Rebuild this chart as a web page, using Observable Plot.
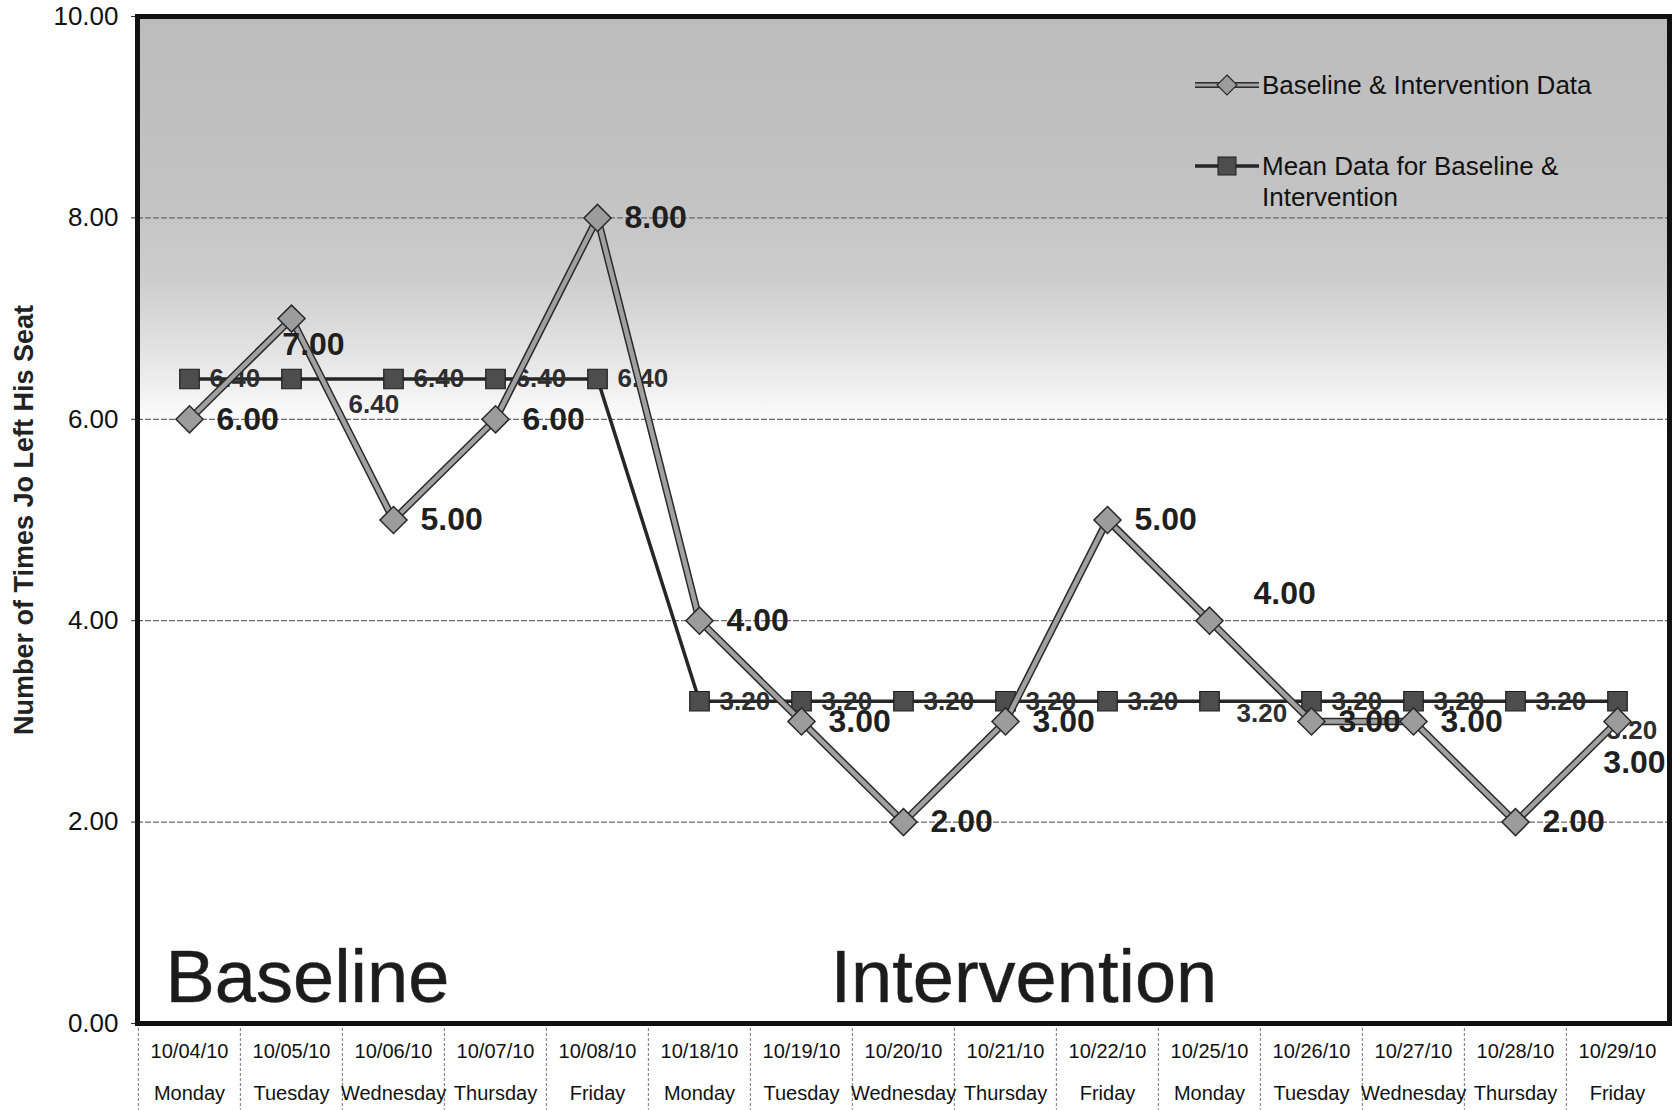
<!DOCTYPE html>
<html>
<head>
<meta charset="utf-8">
<script src="https://cdn.jsdelivr.net/npm/d3@7"></script>
<script src="https://cdn.jsdelivr.net/npm/@observablehq/plot@0.6"></script>
<style>
  html, body { margin: 0; padding: 0; background: #fff; }
  svg { display: block; }
</style>
</head>
<body>
<div id="chart"></div>
<script>
// ---------- data ----------
const dates = ["10/04/10","10/05/10","10/06/10","10/07/10","10/08/10","10/18/10","10/19/10","10/20/10","10/21/10","10/22/10","10/25/10","10/26/10","10/27/10","10/28/10","10/29/10"];
const days = ["Monday","Tuesday","Wednesday","Thursday","Friday","Monday","Tuesday","Wednesday","Thursday","Friday","Monday","Tuesday","Wednesday","Thursday","Friday"];
const values = [6, 7, 5, 6, 8, 4, 3, 2, 3, 5, 4, 3, 3, 2, 3];
const means = [6.4, 6.4, 6.4, 6.4, 6.4, 3.2, 3.2, 3.2, 3.2, 3.2, 3.2, 3.2, 3.2, 3.2, 3.2];
const yTicks = [0, 2, 4, 6, 8, 10];
const gridValues = [2, 4, 6, 8];
const seriesNames = ["Baseline & Intervention Data", "Mean Data for Baseline & Intervention"];
const phaseNames = ["Baseline", "Intervention"];
const phaseStarts = ["10/04/10", "10/19/10"];
const yLabel = "Number of Times Jo Left His Seat";

// ---------- derived table ----------
const rows = dates.map((d, i) => ({date: d, day: days[i], value: values[i], mean: means[i], i}));
const dayOf = new Map(dates.map((d, i) => [d, days[i]]));
const phases = phaseNames.map((p, i) => ({name: p, date: phaseStarts[i]}));

// label nudges (pixels)
const valueLabelNudges = [
  {only: [1], dx: 22, dy: 26, anchor: "middle"},
  {only: [10], dx: 44, dy: -27, anchor: "start"},
  {only: [14], dx: 17, dy: 41, anchor: "middle"}
];
const meanLabelNudges = [
  {only: [1], dx: 57, dy: 26, anchor: "start"},
  {only: [10], dx: 27, dy: 12, anchor: "start"},
  {only: [14], dx: -11, dy: 29, anchor: "start"}
];

const W = 1680, H = 1110;
const mL = 137, mR = 11, mT = 16, mB = 87;
const bw = (W - mL - mR) / dates.length;
const FONT = "'Liberation Sans', Arial, Helvetica, sans-serif";

function labelMarks(key, nudges, defaults, style) {
  const special = new Set(nudges.flatMap(n => n.only));
  const marks = [
    Plot.text(rows, {
      filter: d => !special.has(d.i),
      x: "date", y: key, text: d => d[key].toFixed(2),
      textAnchor: defaults.anchor, dx: defaults.dx, dy: defaults.dy, ...style
    })
  ];
  for (const n of nudges) {
    marks.push(Plot.text(rows, {
      filter: d => n.only.includes(d.i),
      x: "date", y: key, text: d => d[key].toFixed(2),
      textAnchor: n.anchor, dx: n.dx, dy: n.dy, ...style
    }));
  }
  return marks;
}

const svg = Plot.plot({
  width: W,
  height: H,
  marginLeft: mL,
  marginRight: mR,
  marginTop: mT,
  marginBottom: mB,
  style: {fontFamily: FONT, background: "#fff", color: "#111"},
  x: {type: "band", domain: dates, padding: 0},
  y: {domain: [0, 10]},
  marks: [
    Plot.frame({fill: "url(#bgGrad)", stroke: "none"}),
    Plot.ruleY(gridValues, {stroke: "#6a6a6a", strokeWidth: 1.2, strokeDasharray: "6,2"}),
    // category dividers below the plot
    Plot.ruleX(dates, {x: d => d, dx: -bw / 2, y1: 0, y2: -0.86, stroke: "#8a8a8a", strokeWidth: 1.2, strokeDasharray: "3,2"}),
    // phase labels
    Plot.text(phases.slice(0, 1), {x: "date", y: 0.45, text: "name", textAnchor: "start", dx: -24, fontSize: 74, fill: "#1c1c1c", stroke: "#555", strokeWidth: 0.6}),
    Plot.text(phases.slice(1), {x: "date", y: 0.45, text: "name", textAnchor: "start", dx: 29, fontSize: 74, fill: "#1c1c1c", stroke: "#555", strokeWidth: 0.6}),
    // mean series
    Plot.line(rows, {x: "date", y: "mean", stroke: "#262626", strokeWidth: 3.5}),
    Plot.dot(rows, {x: "date", y: "mean", symbol: "square", r: 11, fill: "#4d4d4d", stroke: "#1e1e1e", strokeWidth: 1.2}),
    ...labelMarks("mean", meanLabelNudges, {dx: 20, dy: 0, anchor: "start"},
      {fontSize: 26, fontWeight: "bold", fill: "#2e2e2e"}),
    // baseline & intervention data
    Plot.line(rows, {x: "date", y: "value", stroke: "#2a2a2a", strokeWidth: 7.5}),
    Plot.line(rows, {x: "date", y: "value", stroke: "#a0a0a0", strokeWidth: 4.5}),
    Plot.dot(rows, {x: "date", y: "value", symbol: "square", rotate: 45, r: 10.8, fill: "#9c9c9c", stroke: "#2a2a2a", strokeWidth: 1.5}),
    ...labelMarks("value", valueLabelNudges, {dx: 27, dy: 0, anchor: "start"},
      {fontSize: 32, fontWeight: "bold", fill: "#1f1f1f"}),
    // axes
    Plot.axisY(yTicks, {tickFormat: d => d.toFixed(2), fontSize: 26, tickSize: 6, tickPadding: 13, label: null, stroke: "#333"}),
    Plot.text([yLabel], {frameAnchor: "left", textAnchor: "middle", rotate: -90, dx: -113, fontSize: 27, fontWeight: "bold", fill: "#222"}),
    Plot.axisX({tickFormat: d => d, tickSize: 0, tickPadding: 20, fontSize: 20, label: null}),
    Plot.axisX({tickFormat: d => dayOf.get(d), tickSize: 0, tickPadding: 62, fontSize: 20, label: null}),
    Plot.frame({stroke: "#111", strokeWidth: 5})
  ]
});

// background gradient for the plot area
const defs = d3.select(svg).insert("defs", ":first-child");
const grad = defs.append("linearGradient").attr("id", "bgGrad")
  .attr("x1", 0).attr("y1", 0).attr("x2", 0).attr("y2", 1);
[[0, "#bcbcbc"], [0.17, "#c2c2c2"], [0.26, "#cdcdcd"], [0.33, "#e2e2e2"], [0.38, "#f4f4f4"], [0.41, "#ffffff"], [1, "#ffffff"]]
  .forEach(([o, c]) => grad.append("stop").attr("offset", o).attr("stop-color", c));

// legend (inside the plot area, top right)
const lg = d3.select(svg).append("g").attr("font-family", FONT).attr("text-anchor", "start");
function legendSample(y, kind) {
  if (kind === "diamond") {
    lg.append("line").attr("x1", 1195).attr("x2", 1259).attr("y1", y).attr("y2", y).attr("stroke", "#2a2a2a").attr("stroke-width", 6);
    lg.append("line").attr("x1", 1195).attr("x2", 1259).attr("y1", y).attr("y2", y).attr("stroke", "#a0a0a0").attr("stroke-width", 3);
    lg.append("path").attr("d", `M1227,${y - 10}L1237,${y}L1227,${y + 10}L1217,${y}Z`).attr("fill", "#9c9c9c").attr("stroke", "#2a2a2a").attr("stroke-width", 1.2);
  } else {
    lg.append("line").attr("x1", 1195).attr("x2", 1259).attr("y1", y).attr("y2", y).attr("stroke", "#262626").attr("stroke-width", 3.5);
    lg.append("rect").attr("x", 1218).attr("y", y - 9).attr("width", 18).attr("height", 18).attr("fill", "#4d4d4d").attr("stroke", "#1e1e1e");
  }
}
legendSample(85, "diamond");
legendSample(166, "square");
lg.append("text").attr("x", 1262).attr("y", 85).attr("dy", "0.35em").attr("text-anchor", "start").attr("font-size", 26).attr("fill", "#111").text(seriesNames[0]);
const t2 = lg.append("text").attr("x", 1262).attr("y", 166).attr("dy", "0.35em").attr("text-anchor", "start").attr("font-size", 26).attr("fill", "#111");
t2.append("tspan").attr("x", 1262).text("Mean Data for Baseline &");
t2.append("tspan").attr("x", 1262).attr("dy", 31).text("Intervention");

document.getElementById("chart").appendChild(svg);
</script>
</body>
</html>
